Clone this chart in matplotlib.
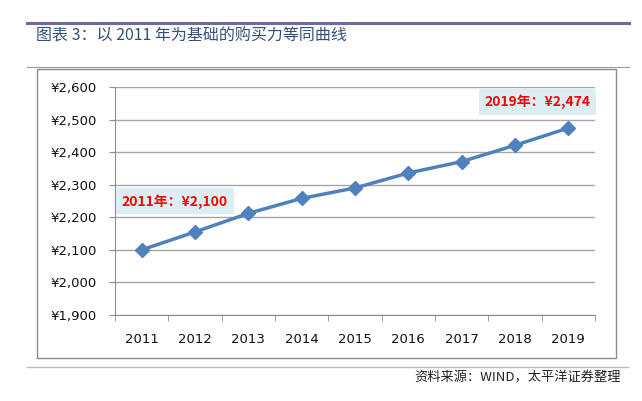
import matplotlib.pyplot as plt
from matplotlib.patches import Rectangle
from matplotlib.lines import Line2D

plt.rcParams['font.family'] = ['Noto Sans CJK SC', 'DejaVu Sans']

years = ['2011', '2012', '2013', '2014', '2015', '2016', '2017', '2018', '2019']
values = [2100, 2155, 2212, 2258, 2290, 2336, 2371, 2421, 2474]
yticks = [1900, 2000, 2100, 2200, 2300, 2400, 2500, 2600]

W, H = 642, 401
fig = plt.figure(figsize=(W / 100, H / 100), dpi=100)


def fx(px):
    return px / W


def fy(py):
    return 1 - py / H


# page decoration lines
fig.add_artist(Line2D([fx(27), fx(629)], [fy(23), fy(23)], color='#6B6B9E', lw=2.2, zorder=-2))
fig.add_artist(Line2D([fx(27), fx(629)], [fy(67), fy(67)], color='#9A9AC0', lw=0.8, zorder=-2))
fig.add_artist(Line2D([fx(27), fx(628)], [fy(367), fy(367)], color='#B8B8D4', lw=1.0, zorder=-2))
fig.add_artist(Rectangle((fx(37), fy(358)), fx(616) - fx(37), fy(69) - fy(358),
                         facecolor='white', edgecolor='#8C8C8C', lw=1.0, zorder=-1))

fig.text(fx(36), fy(36), '图表 3：以 2011 年为基础的购买力等同曲线', fontsize=11.5,
         color='#34507A', va='center', ha='left')
fig.text(fx(621), fy(378), '资料来源：WIND，太平洋证券整理', fontsize=9.5,
         color='#222222', va='center', ha='right', style='italic')

ax = fig.add_axes([fx(115), fy(315), fx(595) - fx(115), fy(87) - fy(315)])
ax.patch.set_alpha(0)
x = list(range(len(years)))
ax.plot(x, values, color='#4F81BD', lw=2.5, marker='D', markersize=7, zorder=3)

ax.set_xlim(-0.5, len(years) - 0.5)
ax.set_ylim(1900, 2600)
ax.set_yticks(yticks)
ax.set_yticklabels(['¥{:,}'.format(v) for v in yticks])
ax.set_xticks(x)
ax.set_xticklabels(years)
ax.set_xticks([i - 0.5 for i in range(len(years) + 1)], minor=True)

for s in ['top', 'right']:
    ax.spines[s].set_visible(False)
for s in ['left', 'bottom']:
    ax.spines[s].set_color('#8C8C8C')
ax.grid(axis='y', color='#A6A6A6', lw=1.0)
ax.set_axisbelow(True)
ax.tick_params(axis='y', length=4, color='#8C8C8C', labelsize=9.5, pad=9,
               labelfontfamily='DejaVu Sans', labelcolor='#111111')
ax.tick_params(axis='x', which='major', length=0, labelsize=9.5, pad=13,
               labelfontfamily='DejaVu Sans', labelcolor='#111111')
ax.tick_params(axis='x', which='minor', length=4, color='#8C8C8C')

box = dict(boxstyle='square,pad=0.4', facecolor='#DAEEF3', edgecolor='none')
ax.annotate('2011年：¥2,100', xy=(0, values[0]), xytext=(24, 35),
            textcoords='offset points', ha='center', va='center', fontsize=10,
            color='#FF0000', fontweight='bold', bbox=box)
ax.annotate('2019年：¥2,474', xy=(8, values[-1]), xytext=(-22, 19),
            textcoords='offset points', ha='center', va='center', fontsize=10,
            color='#FF0000', fontweight='bold', bbox=box)

fig.savefig('out.png', dpi=100)
